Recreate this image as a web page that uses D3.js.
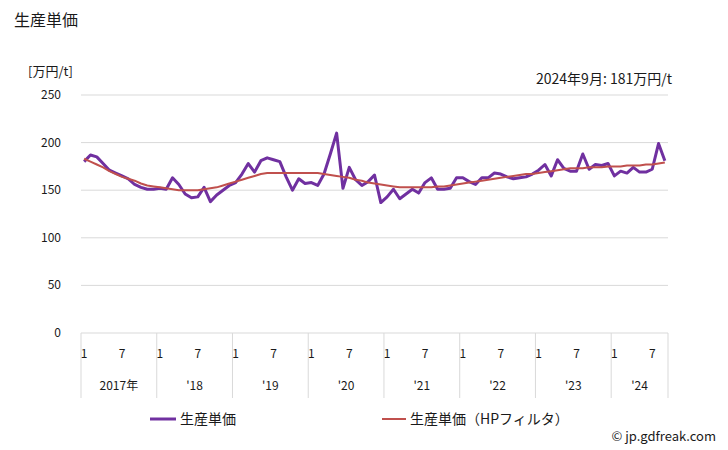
<!DOCTYPE html>
<html><head><meta charset="utf-8">
<script src="https://cdn.jsdelivr.net/npm/d3@7"></script>
<style>body{margin:0;background:#fff}svg{display:block}text{font-family:"Noto Sans CJK JP","Noto Sans",sans-serif;fill:#1a1a1a}</style>
</head><body><svg id="c" width="728" height="450"></svg>
<script>
const years = ["2017年","'18","'19","'20","'21","'22","'23","'24"];
const monthTicks = ["1","7"];
const yTicks = [0,50,100,150,200,250];
const price = [180,187,185,178,171,168,165,162,156,153,151,151,
  152,151,163,156,146,142,143,153,138,145,150,155,
  158,167,178,169,181,184,182,180,164,150,162,157,
  158,155,167,188,210,152,174,161,155,159,166,137,
  143,151,141,146,151,147,158,163,151,151,152,163,
  163,159,156,163,163,168,167,164,162,163,164,167,
  171,177,165,182,173,170,170,188,172,177,176,178,
  165,170,168,174,169,169,172,199,181];
const hp = [183,180,177,174,170,167,164,162,160,157,155,154,
  153,152,151,150,150,150,150,151,152,153,155,157,
  159,161,163,165,167,168,168,168,168,168,168,168,
  168,168,167,166,165,164,163,161,160,158,157,156,
  155,154,153,153,153,153,153,153,154,154,155,156,
  157,158,159,160,161,162,163,164,165,166,167,167,
  168,169,170,171,172,173,173,173,174,174,174,175,
  175,175,176,176,176,177,177,178,179,181];
const months = price.map((d,i)=>i);

const svg = d3.select("#c");
const L=81,R=668,T=95,B=333;
const x = d3.scaleBand().domain(months).range([L,R]);
const y = d3.scaleLinear().domain([0,250]).range([B,T]);

svg.append("text").attr("x",14).attr("y",26).attr("font-size",16).text("生産単価");
svg.append("text").attr("x",28).attr("y",76).attr("font-size",13).text("[万円/t]");
svg.append("text").attr("x",672).attr("y",84).attr("text-anchor","end").attr("font-size",14).text("2024年9月: 181万円/t");

svg.append("g").selectAll("line").data(yTicks).join("line")
  .attr("x1",L).attr("x2",R).attr("y1",d=>y(d)).attr("y2",d=>y(d))
  .attr("stroke","#d9d9d9").attr("stroke-width",1);
svg.append("g").selectAll("text").data(yTicks).join("text")
  .attr("x",61).attr("y",d=>y(d)+4).attr("text-anchor","end").attr("font-size",12).text(d=>d);

// x axis boxes
const bw = x.bandwidth();
const yearStarts = years.map((d,i)=>i*12);
const xa = svg.append("g");
yearStarts.concat([months.length]).forEach(s=>{
  const xx = s<months.length ? x(s) : R;
  xa.append("line").attr("x1",xx).attr("x2",xx).attr("y1",B).attr("y2",398).attr("stroke","#d9d9d9");
});
years.forEach((yr,i)=>{
  const s=i*12, e=Math.min(s+12,months.length);
  [0,6].forEach((m,k)=>{
    if(s+m<months.length) xa.append("text").attr("x",x(s+m)+bw/2).attr("y",358).attr("text-anchor","middle").attr("font-size",12).text(monthTicks[k]);
  });
  xa.append("text").attr("x",(x(s)+(e<months.length?x(e):R))/2).attr("y",390).attr("text-anchor","middle").attr("font-size",12).text(yr);
});

const line = d3.line().x((d,i)=>x(i)+bw/2).y(d=>y(d));
svg.append("path").datum(price).attr("d",line).attr("fill","none").attr("stroke","#7030a0").attr("stroke-width",3).attr("stroke-linejoin","round");
svg.append("path").datum(hp).attr("d",line).attr("fill","none").attr("stroke","#c0504d").attr("stroke-width",2).attr("stroke-linejoin","round");

// legend
svg.append("line").attr("x1",150).attr("x2",176).attr("y1",419).attr("y2",419).attr("stroke","#7030a0").attr("stroke-width",3);
svg.append("text").attr("x",180).attr("y",424).attr("font-size",14).text("生産単価");
svg.append("line").attr("x1",382).attr("x2",406).attr("y1",419).attr("y2",419).attr("stroke","#c0504d").attr("stroke-width",2);
svg.append("text").attr("x",410).attr("y",424).attr("font-size",14).text("生産単価（HPフィルタ）");
svg.append("text").attr("x",716).attr("y",441).attr("text-anchor","end").attr("font-size",13).text("© jp.gdfreak.com");
</script></body></html>
